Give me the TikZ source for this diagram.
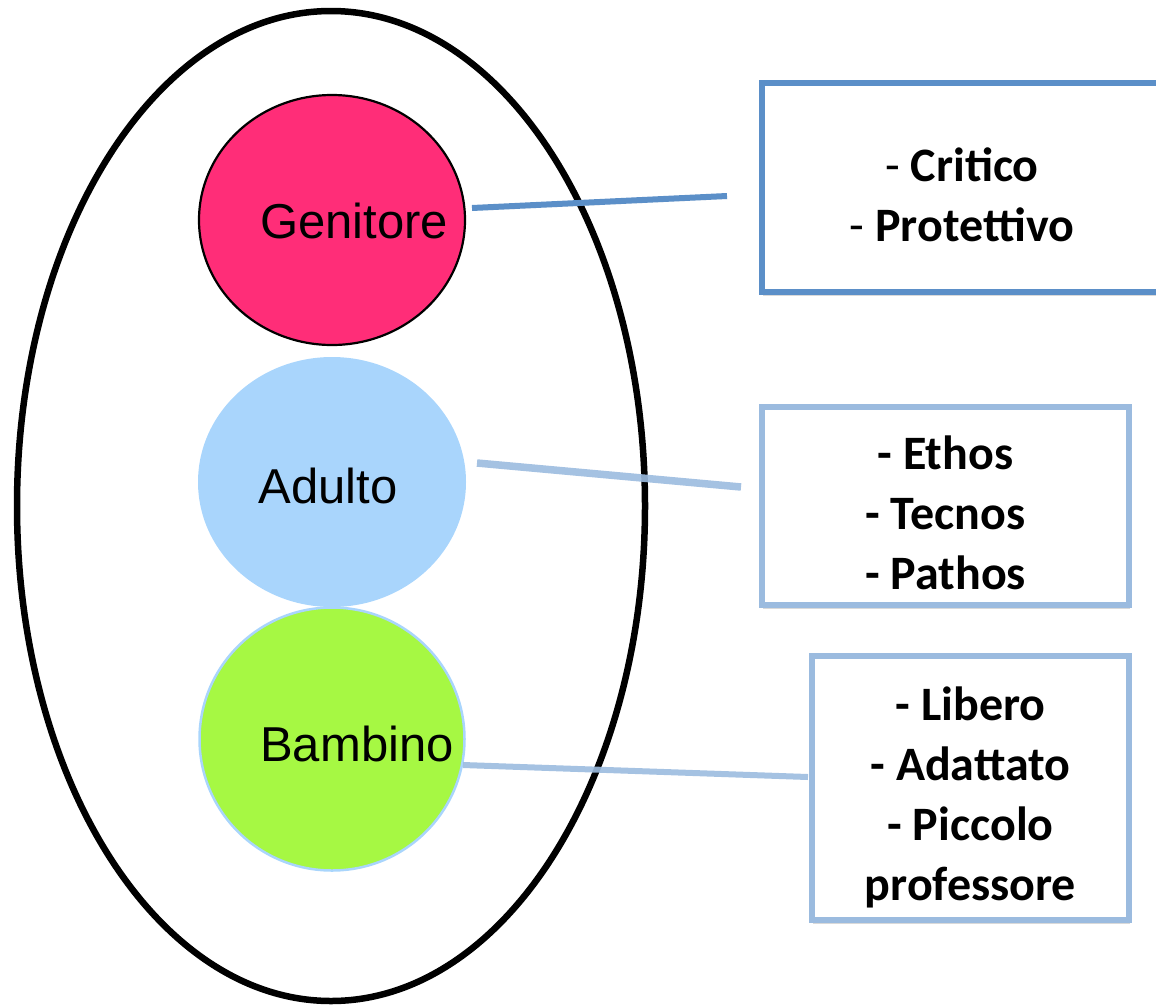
\documentclass[tikz,border=0pt]{standalone}
\usepackage{fontspec}
\setmainfont{Liberation Sans}
\newfontfamily\boxfont{Carlito}
\usetikzlibrary{shapes.geometric,shadows}
\definecolor{pinkfill}{HTML}{FF2D78}
\definecolor{bluefill}{HTML}{A9D5FC}
\definecolor{greenfill}{HTML}{A6F843}
\definecolor{darkline}{HTML}{5B8FC8}
\definecolor{lightline}{HTML}{9BBBDF}
\tikzset{
  ego/.style={ellipse, inner sep=0pt},
  lbl/.style={font=\fontsize{49}{58}\selectfont, inner sep=0pt},
  infobox/.style={rectangle, draw, fill=white, inner sep=0pt, align=center,
    font=\boxfont\bfseries\fontsize{48}{60}\selectfont,
    drop shadow={opacity=0.3, shadow xshift=1pt, shadow yshift=-4pt}},
  conn/.style={line width=6pt},
}
\begin{document}
\begin{tikzpicture}[x=1pt,y=-1pt]
\useasboundingbox (0,0) rectangle (1156,1007);
% outer ellipse
\node[ego, draw=black, line width=6.5pt, minimum width=628pt, minimum height=990pt] (outer) at (331,506) {};
% ego states
\node[ego, fill=pinkfill, draw=black, line width=2.2pt, minimum width=266pt, minimum height=250pt] (gen) at (332,220) {};
\node[ego, fill=bluefill, minimum width=268pt, minimum height=250pt] (adu) at (332,482) {};
\node[ego, fill=greenfill, draw=bluefill, line width=2.5pt, minimum width=265pt, minimum height=263pt] (bam) at (332,739) {};
\node[lbl] (gtext) at (354,221) {Genitore};
\node[lbl] (atext) at (328,486) {Adulto};
\node[lbl] (btext) at (357,744) {Bambino};
% boxes
\node[infobox, draw=darkline, line width=5.5pt, minimum width=400pt, minimum height=209pt] (box1) at (962,187.5) {};
\node[font=\boxfont\bfseries\fontsize{48}{60}\selectfont, align=center, inner sep=0pt] (t1) at (962,195)
  {{\mdseries -} Critico\\{\mdseries -} Protettivo};
\node[infobox, draw=lightline, line width=6.5pt, minimum width=367pt, minimum height=198pt] (box2) at (945.5,506) {};
\node[font=\boxfont\bfseries\fontsize{48}{60}\selectfont, align=center, inner sep=0pt] (t2) at (945.5,513)
  {- Ethos\\- Tecnos\\- Pathos};
\node[infobox, draw=lightline, line width=6.5pt, minimum width=317pt, minimum height=264pt] (box3) at (970.5,788) {};
\node[font=\boxfont\bfseries\fontsize{48}{60}\selectfont, align=center, inner sep=0pt] (t3) at (970.5,797)
  {- Libero\\- Adattato\\- Piccolo\\professore};
% connectors
\coordinate (g1) at (472,208);
\coordinate (g2) at (727,196);
\coordinate (a1) at (477,463);
\coordinate (a2) at (741,487);
\coordinate (b1) at (463,765);
\coordinate (b2) at (808,777);
\draw[conn, draw=darkline, drop shadow={opacity=0.25, shadow xshift=1pt, shadow yshift=-3pt}] (g1) -- (g2);
\draw[conn, draw=lightline, opacity=0.9, line width=7.5pt] (a1) -- (a2);
\draw[conn, draw=lightline, opacity=0.9] (b1) -- (b2);
\end{tikzpicture}
\end{document}
